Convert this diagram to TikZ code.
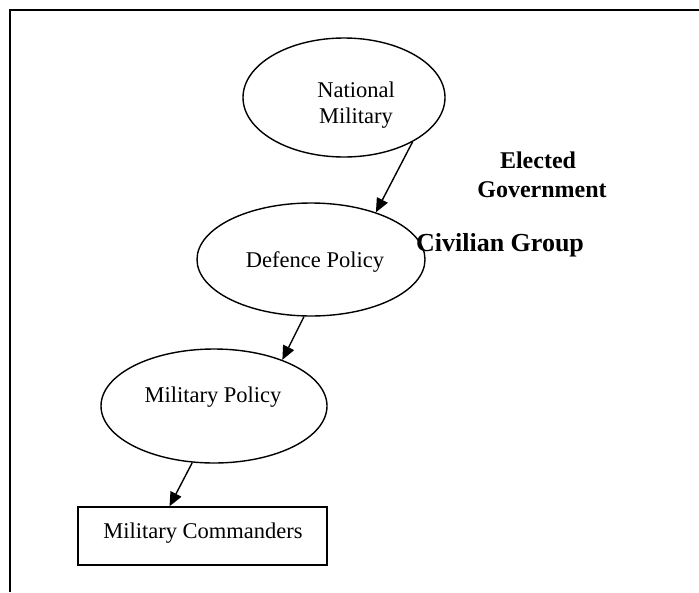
\documentclass[tikz,border=0pt]{standalone}
\usepackage{fontspec}
\setmainfont{Liberation Serif}
\usetikzlibrary{arrows.meta,shapes.geometric}
\begin{document}
\begin{tikzpicture}[x=1pt,y=-1pt,
  ell/.style={draw,ellipse,line width=1.4pt,inner sep=0pt},
  boxnode/.style={draw,rectangle,line width=1.4pt,inner sep=0pt},
  txt/.style={inner sep=0pt,anchor=base,font=\fontsize{22.5}{26}\selectfont},
  btxt/.style={inner sep=0pt,anchor=base,font=\fontsize{24}{28}\selectfont\bfseries},
  bigbtxt/.style={inner sep=0pt,anchor=base,font=\fontsize{26}{30}\selectfont\bfseries},
  conn/.style={line width=1.4pt,-{Triangle[length=14pt,width=12pt]}}]
\useasboundingbox (0,0) rectangle (699,592);
\fill[white] (0,0) rectangle (699,592);
% frame
\coordinate (fb) at (10,592);
\coordinate (fc) at (10,10);
\coordinate (fr) at (699,10);
\draw[line width=2pt] (fb) -- (fc) -- (fr);
% nodes
\node[ell,minimum width=202pt,minimum height=119pt] (nm) at (344,97.5) {};
\node[txt] (nmt1) at (356,97) {National};
\node[txt] (nmt2) at (356,123) {Military};
\node[ell,minimum width=228pt,minimum height=113pt] (dp) at (311,259.5) {};
\node[txt] (dpt) at (315,267) {Defence Policy};
\node[ell,minimum width=226pt,minimum height=114pt] (mp) at (214,406) {};
\node[txt] (mpt) at (213,402) {Military Policy};
\node[boxnode,minimum width=249pt,minimum height=58pt] (mc) at (202.5,536) {};
\node[txt] (mct) at (203,538) {Military Commanders};
\node[btxt] (eg1) at (538,168) {Elected};
\node[btxt] (eg2) at (542,197) {Government};
\node[bigbtxt] (cg) at (500,251) {Civilian Group};
% connectors
\draw[conn] (nm.-33.6) -- (dp.36.9);
\draw[conn] (dp.-97) -- (mp.34.6);
\draw[conn] (mp.-111.4) -- (mc.138.3);
\end{tikzpicture}
\end{document}
